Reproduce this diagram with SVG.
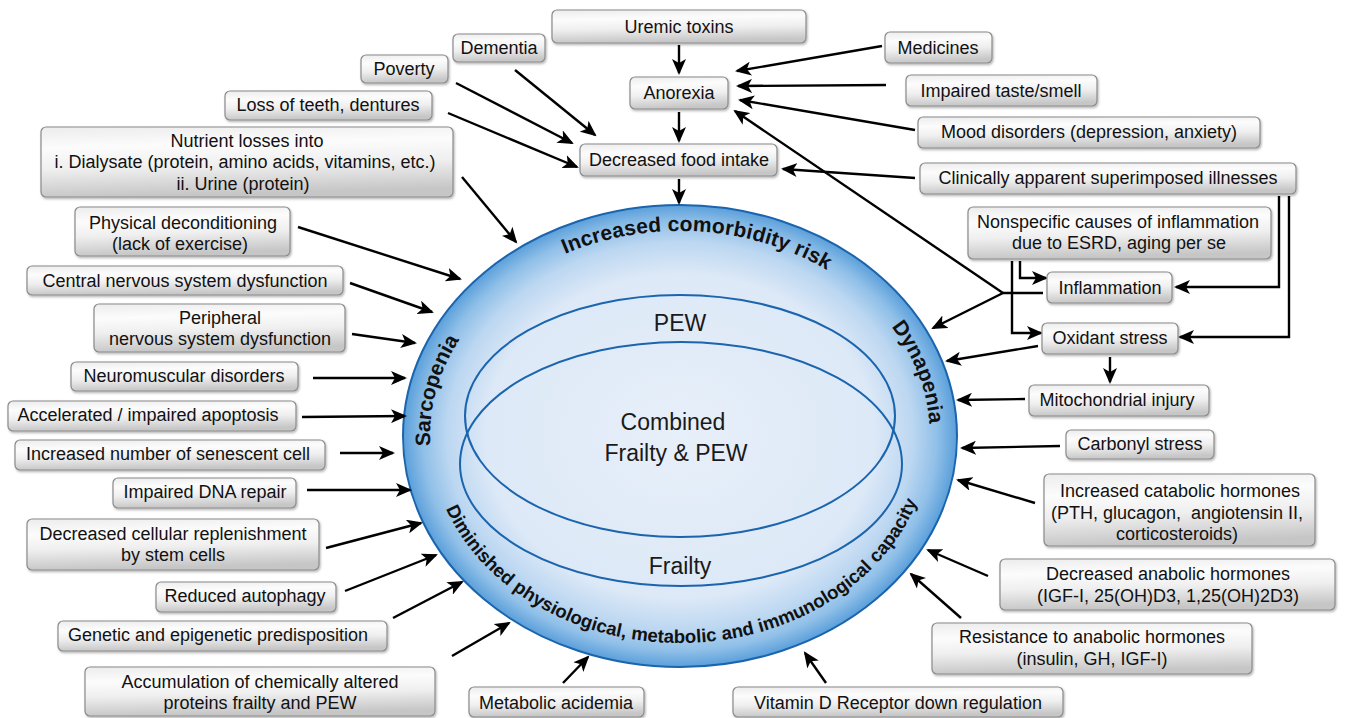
<svg xmlns="http://www.w3.org/2000/svg" width="1354" height="718" viewBox="0 0 1354 718">
<defs>
<style>
.bx{fill:url(#bg);stroke:#8a8a8a;stroke-width:1.2;filter:url(#sh)}
.t{font-family:"Liberation Sans",Arial,Helvetica,sans-serif;font-size:18px;fill:#111;text-anchor:middle}
.big{font-family:"Liberation Sans",Arial,Helvetica,sans-serif;font-size:23px;fill:#1a1a1a;text-anchor:middle}
.cv{font-family:"Liberation Sans",Arial,Helvetica,sans-serif;font-weight:bold;fill:#111}
.cb{font-family:"Liberation Sans",Arial,Helvetica,sans-serif;font-weight:bold;fill:#111;font-size:18.6px}
.cn line,.cn polyline{stroke:#000;stroke-width:2.4;fill:none;marker-end:url(#ah)}
.cn .nm{marker-end:none}
.in{fill:none;stroke:#1b64ae;stroke-width:2}
</style>
<marker id="ah" markerUnits="userSpaceOnUse" markerWidth="18" markerHeight="14" refX="14" refY="7" orient="auto">
<path d="M0,0 L16,7 L0,14 L4,7 z" fill="#000"/>
</marker>
<linearGradient id="bg" x1="0" y1="0" x2="0.15" y2="1">
<stop offset="0" stop-color="#ececec"/>
<stop offset="0.3" stop-color="#fcfcfc"/>
<stop offset="0.6" stop-color="#efefef"/>
<stop offset="1" stop-color="#c6c6c6"/>
</linearGradient>
<radialGradient id="eg" cx="50%" cy="50%" r="50%">
<stop offset="0" stop-color="#e7eff9"/>
<stop offset="0.7" stop-color="#dde9f7"/>
<stop offset="0.84" stop-color="#bcd7f1"/>
<stop offset="0.93" stop-color="#8fbfe8"/>
<stop offset="1" stop-color="#5a9fda"/>
</radialGradient>
<filter id="sh" x="-5%" y="-10%" width="115%" height="135%">
<feDropShadow dx="1" dy="1.5" stdDeviation="1" flood-color="#000" flood-opacity="0.3"/>
</filter>
<path id="pTop" d="M430,436 A250 205 0 0 1 930,436"/>
<path id="pSar" d="M555,613.5 A250 205 0 0 1 680,231"/>
<path id="pDyn" d="M680,231 A250 205 0 0 1 805,613.5"/>
<path id="pBot" d="M430,436 A250 207 0 0 0 930,436"/>
</defs>
<rect width="1354" height="718" fill="#fff"/>

<g id="core">
<ellipse cx="680" cy="436" rx="277" ry="231" fill="url(#eg)" stroke="#1b64ae" stroke-width="2"/>
<ellipse class="in" cx="680" cy="416" rx="215" ry="121"/>
<ellipse class="in" cx="681" cy="464" rx="221" ry="122"/>
<text class="big" x="680" y="331">PEW</text>
<text class="big" x="673" y="430">Combined</text>
<text class="big" x="676" y="461">Frailty &amp; PEW</text>
<text class="big" x="680" y="574">Frailty</text>
<text class="cv" font-size="21"><textPath href="#pTop" startOffset="240" textLength="272" lengthAdjust="spacing">Increased comorbidity risk</textPath></text>
<text class="cv" font-size="21"><textPath href="#pSar" startOffset="219" textLength="112" lengthAdjust="spacing">Sarcopenia</textPath></text>
<text class="cv" font-size="21"><textPath href="#pDyn" startOffset="240" textLength="106" lengthAdjust="spacing">Dynapenia</textPath></text>
<text class="cb"><textPath href="#pBot" startOffset="75">Diminished</textPath></text>
<text class="cb"><textPath href="#pBot" startOffset="180.7">physiological,</textPath></text>
<text class="cb"><textPath href="#pBot" startOffset="310">metabolic</textPath></text>
<text class="cb"><textPath href="#pBot" startOffset="402.2">and</textPath></text>
<text class="cb"><textPath href="#pBot" startOffset="440.5">immunological</textPath></text>
<text class="cb"><textPath href="#pBot" startOffset="577.4">capacity</textPath></text>
</g>

<g id="connectors" class="cn">
<line x1="679" y1="45" x2="679" y2="73"/>
<line x1="679" y1="112" x2="679" y2="141"/>
<line x1="679" y1="179" x2="679" y2="203"/>
<line x1="882" y1="46" x2="737" y2="71"/>
<line x1="886" y1="85" x2="738" y2="86"/>
<line x1="915" y1="130" x2="740" y2="100"/>
<line class="nm" x1="1043" y1="293" x2="1003" y2="293"/>
<line x1="1003" y1="293" x2="735" y2="111"/>
<line x1="1003" y1="293" x2="933" y2="328"/>
<line x1="915" y1="178" x2="783" y2="169"/>
<polyline points="1279,196 1279,287 1176,287"/>
<polyline points="1289,196 1289,337 1180,337"/>
<polyline points="1020,261 1020,278 1046,278"/>
<polyline points="1012,261 1012,333 1041,333"/>
<line x1="1038" y1="346" x2="947" y2="361"/>
<line x1="1110" y1="357" x2="1110" y2="382"/>
<line x1="1025" y1="399" x2="958" y2="400"/>
<line x1="1060" y1="446" x2="962" y2="448"/>
<line x1="1035" y1="503" x2="958" y2="480"/>
<line x1="988" y1="576" x2="928" y2="550"/>
<line x1="961" y1="618" x2="911" y2="574"/>
<line x1="826" y1="683" x2="805" y2="653"/>
<line x1="563" y1="683" x2="588" y2="657"/>
<line x1="452" y1="656" x2="509" y2="623"/>
<line x1="393" y1="618" x2="462" y2="582"/>
<line x1="345" y1="591" x2="436" y2="555"/>
<line x1="326" y1="548" x2="421" y2="523"/>
<line x1="307" y1="490" x2="410" y2="490"/>
<line x1="340" y1="453" x2="393" y2="453"/>
<line x1="302" y1="417" x2="405" y2="416"/>
<line x1="313" y1="378" x2="405" y2="378"/>
<line x1="352" y1="334" x2="415" y2="343"/>
<line x1="350" y1="283" x2="432" y2="312"/>
<line x1="298" y1="227" x2="460" y2="279"/>
<line x1="462" y1="177" x2="516" y2="242"/>
<line x1="515" y1="70" x2="595" y2="135"/>
<line x1="456" y1="83" x2="572" y2="143"/>
<line x1="448" y1="113" x2="577" y2="167"/>
</g>

<g id="n-uremic"><rect class="bx" x="552" y="10" width="254" height="33" rx="5"/><text class="t" x="679" y="33">Uremic toxins</text></g>
<g id="n-dementia"><rect class="bx" x="453" y="34" width="92" height="28" rx="5"/><text class="t" x="499" y="54">Dementia</text></g>
<g id="n-poverty"><rect class="bx" x="361" y="55" width="87" height="28" rx="5"/><text class="t" x="404" y="75">Poverty</text></g>
<g id="n-medicines"><rect class="bx" x="885" y="32" width="107" height="31" rx="5"/><text class="t" x="938" y="54">Medicines</text></g>
<g id="n-anorexia"><rect class="bx" x="630" y="77" width="98" height="32" rx="5"/><text class="t" x="679" y="99">Anorexia</text></g>
<g id="n-taste"><rect class="bx" x="906" y="75" width="191" height="31" rx="5"/><text class="t" x="1001" y="97">Impaired taste/smell</text></g>
<g id="n-teeth"><rect class="bx" x="225" y="91" width="207" height="29" rx="5"/><text class="t" x="328" y="111">Loss of teeth, dentures</text></g>
<g id="n-mood"><rect class="bx" x="918" y="117" width="342" height="31" rx="5"/><text class="t" x="1089" y="138">Mood disorders (depression, anxiety)</text></g>
<g id="n-food"><rect class="bx" x="580" y="144" width="197" height="32" rx="5"/><text class="t" x="679" y="166">Decreased food intake</text></g>
<g id="n-nutrient"><rect class="bx" x="41" y="127" width="412" height="70" rx="5"/><text class="t" x="247" y="147">Nutrient losses into</text><text class="t" x="245" y="168">i. Dialysate (protein, amino acids, vitamins, etc.)</text><text class="t" x="243" y="190">ii. Urine (protein)</text></g>
<g id="n-clinically"><rect class="bx" x="920" y="163" width="376" height="31" rx="5"/><text class="t" x="1108" y="184">Clinically apparent superimposed illnesses</text></g>
<g id="n-nonspecific"><rect class="bx" x="968" y="207" width="303" height="52" rx="5"/><text class="t" x="1118" y="228">Nonspecific causes of inflammation</text><text class="t" x="1119" y="249">due to ESRD, aging per se</text></g>
<g id="n-inflammation"><rect class="bx" x="1047" y="272" width="125" height="31" rx="5"/><text class="t" x="1110" y="294">Inflammation</text></g>
<g id="n-oxidant"><rect class="bx" x="1042" y="323" width="136" height="31" rx="5"/><text class="t" x="1110" y="344">Oxidant stress</text></g>
<g id="n-mito"><rect class="bx" x="1029" y="385" width="180" height="31" rx="5"/><text class="t" x="1117" y="406">Mitochondrial injury</text></g>
<g id="n-carbonyl"><rect class="bx" x="1066" y="430" width="148" height="29" rx="5"/><text class="t" x="1140" y="450">Carbonyl stress</text></g>
<g id="n-catabolic"><rect class="bx" x="1044" y="474" width="271" height="72" rx="5"/><text class="t" x="1180" y="497">Increased catabolic hormones</text><text class="t" x="1177" y="519" style="white-space:pre">(PTH, glucagon,  angiotensin II,</text><text class="t" x="1177" y="540">corticosteroids)</text></g>
<g id="n-anabolic"><rect class="bx" x="1000" y="559" width="335" height="51" rx="5"/><text class="t" x="1168" y="580">Decreased anabolic hormones</text><text class="t" x="1168" y="602">(IGF-I, 25(OH)D3, 1,25(OH)2D3)</text></g>
<g id="n-resistance"><rect class="bx" x="932" y="623" width="320" height="51" rx="5"/><text class="t" x="1092" y="643">Resistance to anabolic hormones</text><text class="t" x="1092" y="665">(insulin, GH, IGF-I)</text></g>
<g id="n-vitd"><rect class="bx" x="733" y="687" width="330" height="30" rx="5"/><text class="t" x="898" y="709">Vitamin D Receptor down regulation</text></g>
<g id="n-acidemia"><rect class="bx" x="469" y="687" width="175" height="30" rx="5"/><text class="t" x="556" y="709">Metabolic acidemia</text></g>
<g id="n-accumulation"><rect class="bx" x="85" y="667" width="350" height="49" rx="5"/><text class="t" x="260" y="688">Accumulation of chemically altered</text><text class="t" x="260" y="709">proteins frailty and PEW</text></g>
<g id="n-genetic"><rect class="bx" x="58" y="621" width="329" height="30" rx="5"/><text class="t" x="218" y="641">Genetic and epigenetic predisposition</text></g>
<g id="n-autophagy"><rect class="bx" x="156" y="582" width="180" height="30" rx="5"/><text class="t" x="245" y="602">Reduced autophagy</text></g>
<g id="n-replenish"><rect class="bx" x="27" y="519" width="292" height="51" rx="5"/><text class="t" x="173" y="540">Decreased cellular replenishment</text><text class="t" x="173" y="561">by stem cells</text></g>
<g id="n-dna"><rect class="bx" x="113" y="478" width="183" height="30" rx="5"/><text class="t" x="205" y="498">Impaired DNA repair</text></g>
<g id="n-senescent"><rect class="bx" x="15" y="440" width="310" height="30" rx="5"/><text class="t" x="168" y="460">Increased number of senescent cell</text></g>
<g id="n-apoptosis"><rect class="bx" x="8" y="401" width="288" height="30" rx="5"/><text class="t" x="148" y="421">Accelerated / impaired apoptosis</text></g>
<g id="n-neuromuscular"><rect class="bx" x="71" y="362" width="227" height="29" rx="5"/><text class="t" x="184" y="382">Neuromuscular disorders</text></g>
<g id="n-peripheral"><rect class="bx" x="94" y="304" width="251" height="48" rx="5"/><text class="t" x="220" y="324">Peripheral</text><text class="t" x="220" y="345">nervous system dysfunction</text></g>
<g id="n-central"><rect class="bx" x="27" y="266" width="316" height="29" rx="5"/><text class="t" x="185" y="287">Central nervous system dysfunction</text></g>
<g id="n-physical"><rect class="bx" x="75" y="207" width="215" height="49" rx="5"/><text class="t" x="183" y="229">Physical deconditioning</text><text class="t" x="180" y="250">(lack of exercise)</text></g>
</svg>
